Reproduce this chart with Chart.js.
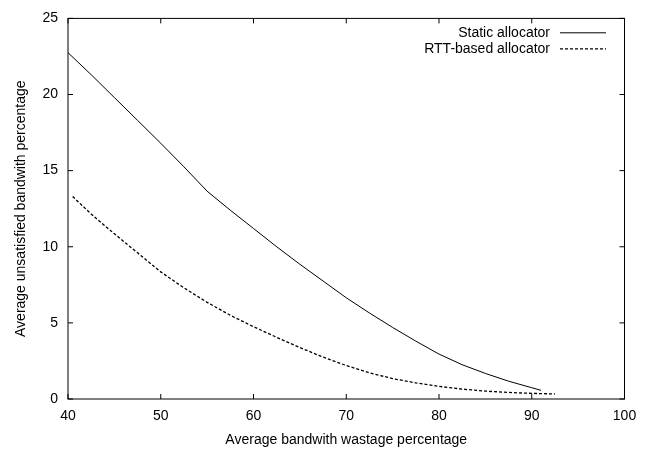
<!DOCTYPE html>
<html>
<head>
<meta charset="utf-8">
<script src="https://cdn.jsdelivr.net/npm/chart.js@4/dist/chart.umd.min.js"></script>
<style>
  html, body { margin: 0; padding: 0; background: #ffffff; }
  canvas { display: block; }
</style>
</head>
<body>
<canvas id="c" width="652" height="451"></canvas>
<script>
// ---- data ----
const seriesLabels = ["Static allocator", "RTT-based allocator"];

const staticX = [40, 42.5, 45, 47.5, 50, 52.5, 55, 57.5, 60, 62.5, 65, 67.5, 70, 72.5, 75, 77.5, 80, 82.5, 85, 87.5, 90, 91];
const staticY = [22.75, 21.3, 19.8, 18.3, 16.8, 15.25, 13.65, 12.4, 11.2, 10.0, 8.85, 7.75, 6.65, 5.65, 4.7, 3.8, 2.95, 2.25, 1.68, 1.17, 0.74, 0.57];

const rttX = [40.5, 42.5, 45, 47.5, 50, 52.5, 55, 57.5, 60, 62.5, 65, 67.5, 70, 72.5, 75, 77.5, 80, 82.5, 85, 87.5, 90, 92.5];
const rttY = [13.3, 12.15, 10.85, 9.6, 8.35, 7.3, 6.35, 5.5, 4.75, 4.05, 3.38, 2.75, 2.2, 1.72, 1.34, 1.06, 0.83, 0.65, 0.52, 0.43, 0.37, 0.33];

const xTickValues = [40, 50, 60, 70, 80, 90, 100];
const yTickValues = [0, 5, 10, 15, 20, 25];

const xTitle = "Average bandwith wastage percentage";
const yTitle = "Average unsatisfied bandwith percentage";

const FONT = "'Liberation Sans', Arial, Helvetica, sans-serif";

function toPoints(xs, ys) { return xs.map((x, i) => ({ x: x, y: ys[i] })); }

// white background
const bgPlugin = {
  id: 'bg',
  beforeDraw(chart) {
    const ctx = chart.ctx;
    ctx.save();
    ctx.fillStyle = '#ffffff';
    ctx.fillRect(0, 0, chart.width, chart.height);
    ctx.restore();
  }
};

// gnuplot-style frame with inward mirrored ticks, and legend
const framePlugin = {
  id: 'frame',
  afterDraw(chart) {
    const ctx = chart.ctx;
    const a = chart.chartArea;
    const xs = chart.scales.x, ys = chart.scales.y;
    const tl = 5;
    ctx.save();
    ctx.strokeStyle = '#000';
    ctx.lineWidth = 1;
    ctx.strokeRect(a.left, a.top, a.right - a.left, a.bottom - a.top);
    ctx.beginPath();
    xs.ticks.forEach(t => {
      const px = xs.getPixelForValue(t.value);
      ctx.moveTo(px, a.bottom); ctx.lineTo(px, a.bottom - tl);
      ctx.moveTo(px, a.top); ctx.lineTo(px, a.top + tl);
    });
    ys.ticks.forEach(t => {
      const py = ys.getPixelForValue(t.value);
      ctx.moveTo(a.left, py); ctx.lineTo(a.left + tl, py);
      ctx.moveTo(a.right, py); ctx.lineTo(a.right - tl, py);
    });
    ctx.stroke();

    ctx.font = '14px ' + FONT;
    ctx.textAlign = 'right';
    ctx.textBaseline = 'middle';
    ctx.fillStyle = '#000';
    chart.data.datasets.forEach((ds, i) => {
      const y = a.top + 14.4 + 16 * i;
      ctx.fillText(ds.label, a.right - 74.5, y);
      ctx.beginPath();
      ctx.setLineDash(ds.borderDash || []);
      ctx.lineWidth = ds.borderWidth;
      ctx.strokeStyle = ds.borderColor;
      ctx.moveTo(a.right - 64.5, y);
      ctx.lineTo(a.right - 18.5, y);
      ctx.stroke();
      ctx.setLineDash([]);
    });
    ctx.restore();
  }
};

new Chart(document.getElementById('c'), {
  type: 'line',
  data: {
    datasets: [
      {
        label: seriesLabels[0],
        data: toPoints(staticX, staticY),
        borderColor: '#000',
        borderWidth: 1,
        pointRadius: 0,
        tension: 0,
        fill: false
      },
      {
        label: seriesLabels[1],
        data: toPoints(rttX, rttY),
        borderColor: '#000',
        borderWidth: 1.3,
        borderDash: [3, 2],
        pointRadius: 0,
        tension: 0,
        fill: false
      }
    ]
  },
  options: {
    responsive: false,
    animation: false,
    devicePixelRatio: 1,
    layout: { padding: { top: 14.6, right: 27.5, left: 0, bottom: 0 } },
    plugins: {
      legend: { display: false },
      tooltip: { enabled: false },
      title: { display: false }
    },
    scales: {
      x: {
        type: 'linear',
        min: 40, max: 100,
        afterFit(scale) { scale.height = 52; },
        afterBuildTicks(scale) { scale.ticks = xTickValues.map(v => ({ value: v })); },
        grid: { display: false, drawTicks: false },
        border: { display: false },
        ticks: {
          color: '#000',
          padding: 9,
          maxRotation: 0,
          autoSkip: false,
          font: { family: FONT, size: 14 }
        },
        title: {
          display: true,
          text: xTitle,
          color: '#000',
          font: { family: FONT, size: 14 },
          padding: { top: 0, bottom: 2 }
        }
      },
      y: {
        type: 'linear',
        min: 0, max: 25,
        afterFit(scale) { scale.width = 68; },
        afterBuildTicks(scale) { scale.ticks = yTickValues.map(v => ({ value: v })); },
        grid: { display: false, drawTicks: false },
        border: { display: false },
        ticks: {
          color: '#000',
          padding: 10,
          autoSkip: false,
          font: { family: FONT, size: 14 }
        },
        title: {
          display: true,
          text: yTitle,
          color: '#000',
          font: { family: FONT, size: 14 },
          padding: { top: 12.6, bottom: 0 }
        }
      }
    }
  },
  plugins: [bgPlugin, framePlugin]
});
</script>
</body>
</html>
